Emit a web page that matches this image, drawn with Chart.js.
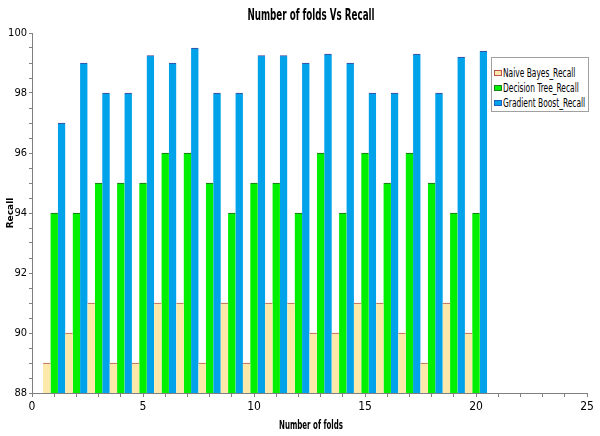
<!DOCTYPE html>
<html>
<head>
<meta charset="utf-8">
<script src="https://cdn.jsdelivr.net/npm/chart.js@4.4.1/dist/chart.umd.min.js"></script>
<style>
    html, body {
        margin: 0;
        padding: 0;
        background: #ffffff;
    }

    #wrap {
        position: relative;
        width: 600px;
        height: 436px;
        font-family: "DejaVu Sans Condensed", "DejaVu Sans", sans-serif;
        color: #000000;
    }

    .squeezed {
        position: absolute;
        white-space: nowrap;
        font-weight: bold;
        line-height: 1;
    }

    #legend {
        position: absolute;
        left: 491px;
        top: 57px;
        width: 96px;
        height: 53px;
        border: 1px solid #a0a0a0;
        background: #ffffff;
        font-size: 13px;
    }

    #legend .item {
        position: absolute;
        left: 2px;
        height: 15px;
        white-space: nowrap;
    }

    #legend .box {
        position: absolute;
        left: 0;
        top: 5px;
        width: 6px;
        height: 4px;
    }

    #legend .txt {
        position: absolute;
        left: 9px;
        top: 0;
        line-height: 15px;
        transform-origin: 0 50%;
    }
</style>
</head>
<body>
<div id="wrap">
    <canvas id="myChart" width="600" height="436"></canvas>
    <div id="title" class="squeezed" style="font-size: 16px;">Number of folds Vs Recall</div>
    <div id="xTitle" class="squeezed" style="font-size: 13px;">Number of folds</div>
    <div id="legend"></div>
</div>

<script>
    // folds on the x axis
    const folds = [1, 2, 3, 4, 5, 6, 7, 8, 9, 10, 11, 12, 13, 14, 15, 16, 17, 18, 19, 20];

    // recall per fold
    const naiveBayes = [89, 90, 91, 89, 89, 91, 91, 89, 91, 89, 91, 91, 90, 90, 91, 91, 90, 89, 91, 90];
    const decisionTree = [94, 94, 95, 95, 95, 96, 96, 95, 94, 95, 95, 94, 96, 94, 96, 95, 96, 95, 94, 94];
    const gradientBoost = [97, 99, 98, 98, 99.25, 99, 99.5, 98, 98, 99.25, 99.25, 99, 99.3, 99, 98, 98, 99.3, 98, 99.2, 99.4];

    const seriesNames = ['Naive Bayes_Recall', 'Decision Tree_Recall', 'Gradient Boost_Recall'];

    const condensed = '"DejaVu Sans Condensed", "DejaVu Sans", sans-serif';

    const data = {
        labels: folds,
        datasets: [{
            label: seriesNames[0],
            data: naiveBayes,
            backgroundColor: '#fce9a9',
            borderColor: '#b85a4c',
            borderWidth: { top: 1, left: 0, right: 0, bottom: 0 },
            swatchBorder: '#c0504d'
        }, {
            label: seriesNames[1],
            data: decisionTree,
            backgroundColor: '#00f000',
            borderColor: '#206020',
            borderWidth: { top: 1, left: 0, right: 0, bottom: 0 },
            swatchBorder: '#208020'
        }, {
            label: seriesNames[2],
            data: gradientBoost,
            backgroundColor: '#00a2ea',
            borderColor: '#40409a',
            borderWidth: { top: 1, left: 0, right: 0, bottom: 0 },
            swatchBorder: '#2060c0'
        }]
    };

    const config = {
        type: 'bar',
        data: data,
        options: {
            responsive: false,
            animation: false,
            barPercentage: 1,
            categoryPercentage: 1,
            layout: {
                padding: { left: 0, right: 13, top: 33, bottom: 0 }
            },
            plugins: {
                legend: { display: false },
                tooltip: { enabled: false },
                title: { display: false }
            },
            scales: {
                x: {
                    type: 'linear',
                    min: 0,
                    max: 25,
                    offset: false,
                    grid: {
                        drawOnChartArea: false,
                        drawTicks: true,
                        tickLength: 4,
                        color: '#808080',
                        offset: false
                    },
                    border: { color: '#808080', width: 1 },
                    ticks: {
                        stepSize: 1,
                        autoSkip: false,
                        maxRotation: 0,
                        padding: 3,
                        color: '#000000',
                        font: { family: condensed, size: 12 },
                        callback: function (v) {
                            return v % 5 === 0 ? String(v) : '';
                        }
                    },
                    afterFit: function (scale) {
                        scale.height = 43;
                    }
                },
                y: {
                    min: 88,
                    max: 100,
                    grid: {
                        drawOnChartArea: false,
                        drawTicks: true,
                        tickLength: 3,
                        color: '#808080'
                    },
                    border: { color: '#808080', width: 1 },
                    ticks: {
                        stepSize: 0.5,
                        autoSkip: false,
                        padding: 2,
                        color: '#000000',
                        font: { family: condensed, size: 11 },
                        callback: function (v) {
                            return v % 2 === 0 ? String(v) : '';
                        }
                    },
                    title: {
                        display: true,
                        text: 'Recall',
                        color: '#000000',
                        font: { family: 'DejaVu Sans', size: 9, weight: 'bold' },
                        padding: { top: 5, bottom: 0 }
                    },
                    afterFit: function (scale) {
                        scale.width = 32;
                    }
                }
            }
        }
    };

    const myChart = new Chart(
        document.getElementById('myChart'),
        config
    );

    // the original text is squashed sideways, so squeeze real text to the same width
    function place(el, cx, cy, targetWidth) {
        const w = el.offsetWidth;
        el.style.left = cx + 'px';
        el.style.top = cy + 'px';
        el.style.transform = 'translate(-50%, -50%) scaleX(' + (targetWidth / w) + ')';
    }

    place(document.getElementById('title'), 311, 15, 127);
    place(document.getElementById('xTitle'), 311, 424, 64);

    // legend box sits inside the plot, top right
    const legendDiv = document.getElementById('legend');
    const txts = [];
    data.datasets.forEach(function (ds, i) {
        const item = document.createElement('div');
        item.className = 'item';
        item.style.top = (7 + i * 15) + 'px';
        const box = document.createElement('span');
        box.className = 'box';
        box.style.background = ds.backgroundColor;
        box.style.border = '1px solid ' + ds.swatchBorder;
        const txt = document.createElement('span');
        txt.className = 'txt';
        txt.textContent = ds.label;
        item.appendChild(box);
        item.appendChild(txt);
        legendDiv.appendChild(item);
        txts.push(txt);
    });
    const squeeze = 82 / txts[2].offsetWidth;
    txts.forEach(function (t) {
        t.style.transform = 'scaleX(' + squeeze + ')';
    });
</script>
</body>
</html>
